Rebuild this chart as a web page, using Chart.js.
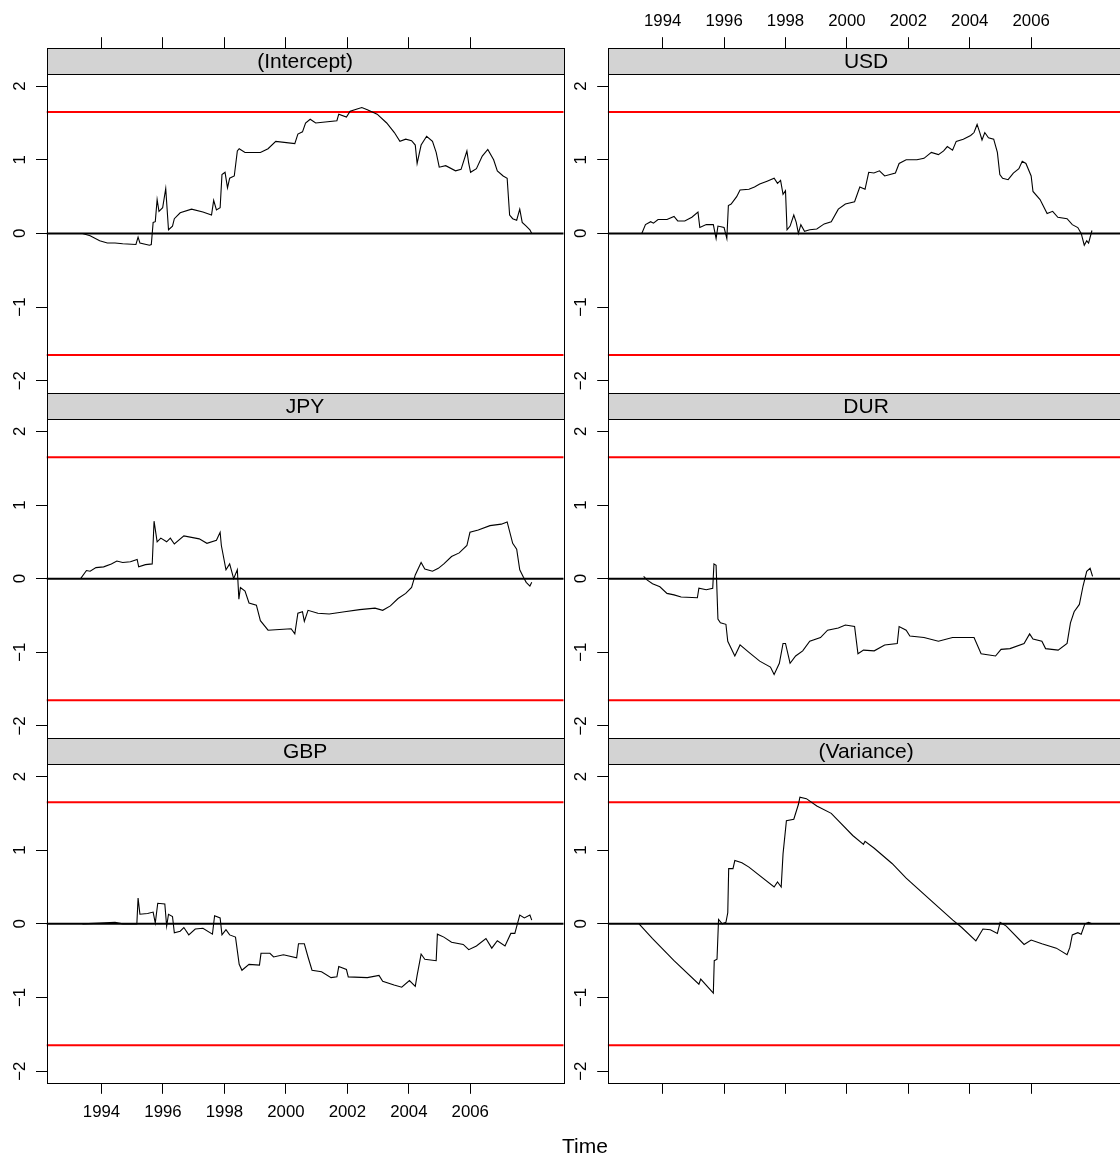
<!DOCTYPE html>
<html><head><meta charset="utf-8">
<script src="https://cdn.jsdelivr.net/npm/chart.js@4.4.1/dist/chart.umd.min.js"></script>
<style>
html,body{margin:0;padding:0;background:#fff;overflow:hidden;width:1120px;height:1155px;}
#wrap{position:relative;width:1120px;height:1155px;overflow:hidden;background:#fff;}
#wrap canvas{position:absolute;left:0;top:0;}
#xlab{position:absolute;left:485px;width:200px;top:1133px;text-align:center;font-family:'Liberation Sans',Arial,Helvetica,sans-serif;font-size:21px;line-height:26px;color:#000;}
</style></head><body><div id="wrap"><div id="xlab">Time</div></div>
<script>
// ---------- data ----------
const panelTitles = ['(Intercept)', 'USD', 'JPY', 'DUR', 'GBP', '(Variance)'];
const yearTicks = [1994, 1996, 1998, 2000, 2002, 2004, 2006];
const yTicks = [-2, -1, 0, 1, 2];
const boundary = 1.65;

const interceptYears = [1993.38,1993.63,1993.94,1994.19,1994.44,1994.69,1995.12,1995.19,1995.25,1995.56,
 1995.62,1995.68,1995.75,1995.81,1995.87,1995.99,1996.09,1996.18,1996.31,1996.37,
 1996.56,1996.93,1997.30,1997.58,1997.65,1997.74,1997.86,1997.92,1998.02,1998.10,
 1998.17,1998.32,1998.42,1998.48,1998.67,1999.17,1999.42,1999.67,2000.29,2000.39,
 2000.54,2000.64,2000.79,2000.97,2001.66,2001.72,2001.97,2002.09,2002.47,2002.65,
 2002.97,2003.28,2003.53,2003.71,2003.90,2004.09,2004.21,2004.27,2004.40,2004.58,
 2004.77,2004.89,2004.99,2005.20,2005.52,2005.70,2005.89,2005.95,2006.01,2006.20,
 2006.39,2006.57,2006.76,2006.88,2007.07,2007.20,2007.28,2007.38,2007.51,2007.61,
 2007.69,2007.82,2007.94,2008.00];
const interceptValues = [0.00,-0.03,-0.10,-0.13,-0.13,-0.14,-0.15,-0.05,-0.13,-0.16,
 -0.15,0.15,0.16,0.46,0.30,0.35,0.61,0.05,0.10,0.20,
 0.28,0.33,0.29,0.25,0.45,0.32,0.35,0.80,0.83,0.62,
 0.75,0.78,1.12,1.15,1.10,1.10,1.15,1.25,1.22,1.35,
 1.38,1.50,1.55,1.50,1.53,1.62,1.58,1.66,1.71,1.68,
 1.62,1.50,1.37,1.25,1.28,1.26,1.20,0.95,1.20,1.32,
 1.25,1.10,0.90,0.92,0.85,0.87,1.12,0.95,0.83,0.88,
 1.05,1.14,1.00,0.85,0.78,0.75,0.25,0.20,0.18,0.33,
 0.15,0.10,0.05,0.00];

const usdYears = [1993.32,1993.44,1993.61,1993.70,1993.85,1994.14,1994.37,1994.49,1994.72,1994.95,
 1995.15,1995.21,1995.42,1995.65,1995.74,1995.80,1996.00,1996.09,1996.14,1996.23,
 1996.41,1996.52,1996.81,1996.99,1997.16,1997.40,1997.63,1997.74,1997.84,1997.92,
 1998.00,1998.05,1998.15,1998.27,1998.35,1998.42,1998.50,1998.62,1998.79,1999.02,
 1999.26,1999.49,1999.72,1999.95,2000.25,2000.42,2000.59,2000.71,2000.88,2001.06,
 2001.23,2001.58,2001.70,2001.93,2002.28,2002.51,2002.75,2002.98,2003.15,2003.27,
 2003.44,2003.56,2003.79,2004.03,2004.14,2004.24,2004.32,2004.40,2004.49,2004.61,
 2004.78,2004.90,2004.98,2005.07,2005.25,2005.42,2005.60,2005.71,2005.83,2006.00,
 2006.06,2006.29,2006.52,2006.70,2006.87,2007.17,2007.34,2007.52,2007.63,2007.73,
 2007.81,2007.87,2007.98];
const usdValues = [0.00,0.12,0.16,0.14,0.19,0.19,0.23,0.17,0.17,0.22,
 0.29,0.08,0.12,0.12,-0.07,0.10,0.08,-0.07,0.38,0.40,
 0.50,0.59,0.60,0.63,0.67,0.71,0.75,0.68,0.72,0.53,
 0.58,0.05,0.10,0.25,0.15,0.00,0.12,0.03,0.05,0.06,
 0.13,0.16,0.33,0.40,0.43,0.63,0.60,0.83,0.82,0.85,
 0.78,0.82,0.95,1.00,1.00,1.02,1.10,1.07,1.12,1.18,
 1.13,1.25,1.28,1.33,1.37,1.48,1.38,1.27,1.37,1.30,
 1.28,1.10,0.80,0.75,0.73,0.82,0.88,0.98,0.95,0.78,
 0.57,0.46,0.27,0.30,0.22,0.20,0.12,0.08,0.00,-0.16,
 -0.10,-0.13,0.04];

const jpyYears = [1993.32,1993.51,1993.63,1993.82,1994.07,1994.32,1994.50,1994.69,1994.94,1995.16,
 1995.21,1995.43,1995.65,1995.71,1995.81,1995.93,1996.12,1996.24,1996.37,1996.68,
 1997.18,1997.43,1997.74,1997.86,1997.90,1998.05,1998.17,1998.30,1998.42,1998.47,
 1998.52,1998.67,1998.80,1999.04,1999.17,1999.42,1999.79,2000.17,2000.29,2000.39,
 2000.54,2000.60,2000.72,2001.04,2001.41,2001.91,2002.40,2002.90,2003.15,2003.40,
 2003.65,2003.90,2004.09,2004.21,2004.40,2004.52,2004.77,2004.96,2005.14,2005.39,
 2005.64,2005.89,2005.99,2006.26,2006.64,2007.01,2007.20,2007.38,2007.51,2007.61,
 2007.73,2007.82,2007.94,2008.00];
const jpyValues = [0.00,0.11,0.10,0.15,0.16,0.20,0.24,0.22,0.23,0.26,
 0.16,0.19,0.20,0.78,0.50,0.55,0.50,0.55,0.47,0.58,
 0.54,0.48,0.52,0.63,0.45,0.12,0.20,0.00,0.12,-0.28,
 -0.12,-0.17,-0.33,-0.36,-0.57,-0.70,-0.69,-0.68,-0.75,-0.47,
 -0.45,-0.58,-0.43,-0.47,-0.48,-0.45,-0.42,-0.40,-0.43,-0.37,
 -0.27,-0.20,-0.12,0.05,0.22,0.13,0.10,0.14,0.20,0.30,
 0.35,0.45,0.63,0.66,0.72,0.74,0.77,0.48,0.40,0.12,
 0.02,-0.05,-0.10,-0.05];

const durYears = [1993.38,1993.50,1993.67,1993.91,1994.14,1994.37,1994.60,1995.13,1995.18,1995.42,
 1995.63,1995.67,1995.74,1995.80,1995.88,1996.06,1996.12,1996.35,1996.52,1996.81,
 1997.16,1997.51,1997.63,1997.80,1997.92,1998.00,1998.15,1998.33,1998.56,1998.79,
 1999.14,1999.37,1999.72,1999.95,2000.25,2000.36,2000.54,2000.89,2001.23,2001.64,
 2001.70,2001.93,2002.05,2002.51,2002.98,2003.44,2004.14,2004.37,2004.84,2005.02,
 2005.31,2005.77,2005.95,2006.06,2006.35,2006.47,2006.88,2007.17,2007.28,2007.40,
 2007.57,2007.69,2007.81,2007.92,2008.00];
const durValues = [0.03,-0.02,-0.07,-0.11,-0.20,-0.22,-0.25,-0.26,-0.13,-0.15,
 -0.13,0.20,0.18,-0.55,-0.60,-0.62,-0.85,-1.05,-0.90,-1.00,
 -1.12,-1.20,-1.30,-1.15,-0.88,-0.88,-1.15,-1.05,-0.98,-0.85,
 -0.80,-0.70,-0.67,-0.63,-0.65,-1.02,-0.97,-0.98,-0.90,-0.88,
 -0.65,-0.70,-0.78,-0.80,-0.85,-0.80,-0.80,-1.02,-1.05,-0.96,
 -0.95,-0.88,-0.75,-0.82,-0.85,-0.95,-0.97,-0.88,-0.60,-0.45,
 -0.35,-0.10,0.10,0.14,0.03];

const gbpYears = [1993.38,1993.94,1994.44,1994.69,1995.15,1995.19,1995.25,1995.50,1995.68,1995.75,
 1995.83,1996.06,1996.12,1996.18,1996.31,1996.37,1996.56,1996.68,1996.84,1997.05,
 1997.30,1997.61,1997.68,1997.86,1997.92,1998.05,1998.17,1998.36,1998.48,1998.57,
 1998.80,1999.14,1999.19,1999.48,1999.60,1999.92,2000.35,2000.41,2000.60,2000.72,
 2000.85,2001.16,2001.47,2001.66,2001.72,2001.97,2002.03,2002.65,2003.03,2003.15,
 2003.52,2003.77,2004.02,2004.21,2004.27,2004.40,2004.52,2004.89,2004.93,2005.14,
 2005.39,2005.77,2005.95,2006.20,2006.51,2006.70,2006.88,2007.13,2007.32,2007.45,
 2007.61,2007.76,2007.94,2008.00];
const gbpValues = [0.00,0.01,0.02,0.00,0.00,0.35,0.13,0.14,0.16,0.01,
 0.28,0.27,-0.03,0.13,0.10,-0.12,-0.10,-0.05,-0.15,-0.07,
 -0.06,-0.14,0.11,0.08,-0.15,-0.08,-0.15,-0.18,-0.55,-0.63,
 -0.55,-0.56,-0.40,-0.40,-0.45,-0.42,-0.46,-0.27,-0.27,-0.45,
 -0.63,-0.65,-0.73,-0.72,-0.58,-0.62,-0.72,-0.73,-0.70,-0.78,
 -0.83,-0.86,-0.77,-0.85,-0.70,-0.41,-0.48,-0.50,-0.14,-0.18,
 -0.25,-0.28,-0.35,-0.30,-0.20,-0.33,-0.23,-0.30,-0.13,-0.13,
 0.12,0.08,0.12,0.05];

const varianceYears = [1993.23,1993.67,1994.37,1995.18,1995.24,1995.65,1995.68,1995.77,1995.82,1995.94,
 1996.06,1996.12,1996.15,1996.29,1996.35,1996.58,1996.81,1997.63,1997.74,1997.86,
 1997.92,1998.03,1998.27,1998.42,1998.47,1998.68,1999.02,1999.49,2000.19,2000.54,
 2000.59,2000.88,2001.47,2001.93,2002.86,2003.45,2003.74,2004.20,2004.43,2004.67,
 2004.90,2004.99,2005.19,2005.77,2006.00,2006.35,2006.82,2007.17,2007.26,2007.34,
 2007.52,2007.63,2007.75,2007.87,2007.98];
const varianceValues = [0.00,-0.20,-0.50,-0.82,-0.75,-0.94,-0.50,-0.48,0.06,0.00,
 0.02,0.15,0.75,0.75,0.86,0.83,0.77,0.50,0.57,0.50,
 0.95,1.40,1.42,1.62,1.72,1.70,1.60,1.50,1.20,1.08,
 1.12,1.03,0.82,0.62,0.27,0.05,-0.05,-0.23,-0.07,-0.08,
 -0.13,0.02,-0.03,-0.28,-0.22,-0.27,-0.33,-0.42,-0.32,-0.15,
 -0.12,-0.14,0.00,0.02,0.00];

const seriesYears = [interceptYears, usdYears, jpyYears, durYears, gbpYears, varianceYears];
const seriesValues = [interceptValues, usdValues, jpyValues, durValues, gbpValues, varianceValues];

// ---------- layout ----------
const X_MIN = 1992.21, X_MAX = 2009.04, Y_LIM = 2.165;
const CW = 1130, CH = 1155;
const COL_LEFT = [46.5, 607.7], COL_RIGHT = [563.7, 1124.5];
const STRIP_TOP0 = 47.7, ROW_STEP = 345.2, STRIP_H = 26.3, PANEL_H = 318.9;
const TICK = 10.5, Y_AXIS_W = 40, TOP_AXIS_H = 74, BOTTOM_AXIS_H = 60;
const FONT = "'Liberation Sans', Arial, Helvetica, sans-serif";

const decor = {
  id: 'decor',
  afterDraw(chart, args, o) {
    const ctx = chart.ctx, a = chart.chartArea;
    const L = Math.round(a.left), R = Math.round(a.right), T = Math.round(a.top), B = Math.round(a.bottom);
    const ST = Math.round(a.top - o.stripH);
    ctx.save();
    ctx.fillStyle = '#d3d3d3';
    ctx.fillRect(L, ST, R - L, T - ST);
    ctx.strokeStyle = '#000';
    ctx.lineWidth = 1;
    ctx.strokeRect(L + 0.5, ST + 0.5, R - L, T - ST);
    ctx.strokeRect(L + 0.5, T + 0.5, R - L, B - T);
    ctx.fillStyle = '#000';
    ctx.font = '21px ' + FONT;
    ctx.textAlign = 'center';
    ctx.textBaseline = 'middle';
    ctx.fillText(o.title, (a.left + a.right) / 2, (ST + T) / 2 + 1);
    ctx.restore();
  }
};

const minus = v => (v < 0 ? '\u2212' + Math.abs(v) : String(v));
const wrap = document.getElementById('wrap');

for (let i = 0; i < 6; i++) {
  const r = Math.floor(i / 2), c = i % 2;
  const panelTop = STRIP_TOP0 + r * ROW_STEP + STRIP_H;
  const panelBottom = panelTop + PANEL_H;
  const cv = document.createElement('canvas');
  cv.width = CW; cv.height = CH;
  cv.style.width = CW + 'px'; cv.style.height = CH + 'px';
  wrap.insertBefore(cv, wrap.firstChild);

  const ys = seriesYears[i], vs = seriesValues[i];
  const pts = [];
  for (let k = 0; k < Math.min(ys.length, vs.length); k++) pts.push({x: ys[k], y: vs[k]});
  const hline = v => [{x: X_MIN, y: v}, {x: X_MAX, y: v}];
  const lineDs = (data, color, w, order) => ({data, borderColor: color, borderWidth: w, pointRadius: 0,
    pointHoverRadius: 0, fill: false, tension: 0, clip: 0, order, borderCapStyle: 'butt'});
  const showBottom = r === 2, showTop = r === 0;

  new Chart(cv, {
    type: 'line',
    data: { datasets: [
      lineDs(hline(boundary), '#ff0000', 2, 3),
      lineDs(hline(-boundary), '#ff0000', 2, 3),
      lineDs(hline(0), '#000000', 2, 2),
      lineDs(pts, '#000000', 1.1, 0)
    ]},
    options: {
      responsive: false, animation: false, events: [],
      devicePixelRatio: 1,
      layout: { autoPadding: false, padding: {
        left: COL_LEFT[c] - Y_AXIS_W,
        right: CW - COL_RIGHT[c],
        top: panelTop - (showTop ? TOP_AXIS_H : 0),
        bottom: CH - panelBottom - (showBottom ? BOTTOM_AXIS_H : 0)
      }},
      plugins: { legend: {display: false}, tooltip: {enabled: false}, title: {display: false},
        decor: { title: panelTitles[i], stripH: STRIP_H } },
      scales: {
        x: { type: 'linear', position: 'bottom', min: X_MIN, max: X_MAX, display: showBottom,
          afterBuildTicks: s => { s.ticks = yearTicks.map(v => ({value: v})); },
          afterFit: s => { s.height = showBottom ? BOTTOM_AXIS_H : 0; },
          grid: { drawOnChartArea: false, drawTicks: true, tickLength: TICK, color: '#000', tickColor: '#000', lineWidth: 1 },
          border: { display: false },
          ticks: { display: c === 0, color: '#000', font: {size: 16.8, family: FONT}, padding: 8.2,
            maxRotation: 0, minRotation: 0, autoSkip: false, callback: v => String(v) } },
        xt: { type: 'linear', position: 'top', min: X_MIN, max: X_MAX, display: showTop,
          afterBuildTicks: s => { s.ticks = yearTicks.map(v => ({value: v})); },
          afterFit: s => { s.height = showTop ? TOP_AXIS_H : 0; },
          grid: { drawOnChartArea: false, drawTicks: true, tickLength: TICK + STRIP_H, color: '#000', tickColor: '#000', lineWidth: 1 },
          border: { display: false },
          ticks: { display: c === 1, color: '#000', font: {size: 16.8, family: FONT}, padding: 6.2,
            maxRotation: 0, minRotation: 0, autoSkip: false, callback: v => String(v) } },
        y: { type: 'linear', position: 'left', min: -Y_LIM, max: Y_LIM,
          afterBuildTicks: s => { s.ticks = yTicks.map(v => ({value: v})); },
          afterFit: s => { s.width = Y_AXIS_W; },
          grid: { drawOnChartArea: false, drawTicks: true, tickLength: TICK, color: '#000', tickColor: '#000', lineWidth: 1 },
          border: { display: false },
          ticks: { color: '#000', font: {size: 16.8, family: FONT}, padding: 6.4, minRotation: 90, maxRotation: 90,
            crossAlign: 'center', autoSkip: false, callback: v => minus(v) } }
      }
    },
    plugins: [decor]
  });
}
</script></body></html>
